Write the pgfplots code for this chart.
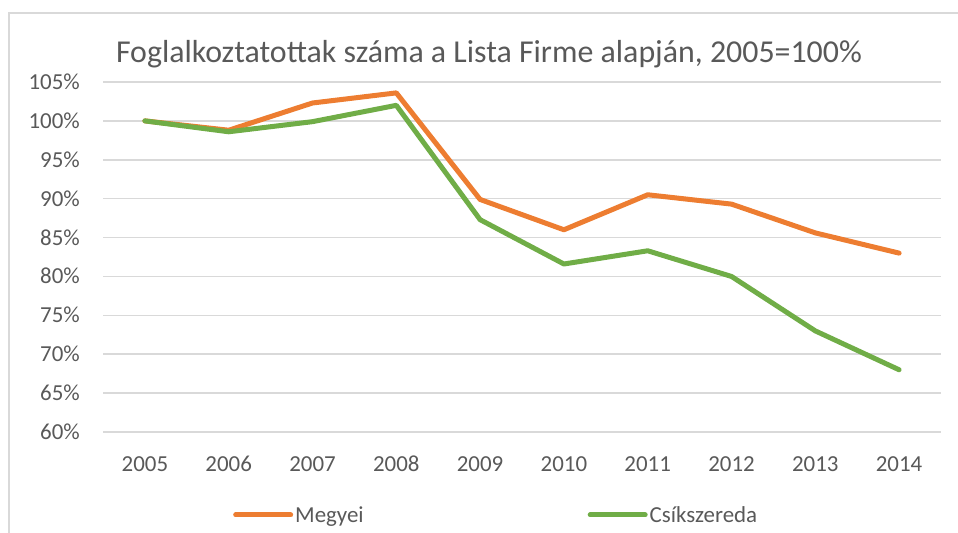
\documentclass[border=0pt]{standalone}
\usepackage{pgfplots}
\pgfplotsset{compat=1.18}
\usepackage{fontspec}
\setmainfont{Carlito}
\definecolor{txt}{HTML}{595959}
\definecolor{gridc}{HTML}{D9D9D9}
\definecolor{orng}{HTML}{ED7D31}
\definecolor{grn}{HTML}{70AD47}
\begin{document}
\begin{tikzpicture}
\draw[gridc, line width=1.5bp] (9bp,0bp) -- (9bp,520bp) -- (958bp,520bp);
\begin{axis}[
  at={(103bp,101bp)}, anchor=south west, scale only axis,
  width=838bp, height=350bp,
  xmin=-0.5, xmax=9.5, ymin=60, ymax=105,
  axis line style={draw=none}, major tick length=0pt,
  ymajorgrids, grid style={gridc, line width=1.5bp},
  xtick={0,...,9},
  xticklabels={2005,2006,2007,2008,2009,2010,2011,2012,2013,2014},
  ytick={60,65,...,105},
  yticklabels={60\%,65\%,70\%,75\%,80\%,85\%,90\%,95\%,100\%,105\%},
  ticklabel style={font=\fontsize{23}{23}\selectfont, text=txt, inner sep=0pt},
  yticklabel style={xshift=-23bp, text height=15bp, text depth=0pt},
  xticklabel style={yshift=-24bp, text height=15bp, text depth=0pt},
  title={Foglalkoztatottak száma a Lista Firme alapján, 2005=100\%},
  title style={font=\fontsize{32}{32}\selectfont, text=txt, anchor=base, at={(axis description cs:0.4606,1)}, yshift=14bp, inner sep=0pt},
  legend columns=2, legend cell align=left,
  legend style={draw=none, fill=none, at={(axis description cs:0.1551,-0.2371)}, anchor=west, inner sep=0pt,
    font=\fontsize{23}{23}\selectfont, text=txt,
    nodes={inner sep=2bp},
    /tikz/every odd column/.append style={column sep=0bp},
    /tikz/every even column/.append style={column sep=222bp}},
  legend image code/.code={\draw[#1] (0bp,0bp) -- (55bp,0bp);},
  every axis plot/.append style={line width=5bp, line cap=round, line join=round},
]
\addplot[orng] coordinates {(0,100) (1,98.8) (2,102.3) (3,103.6) (4,89.9) (5,86.0) (6,90.5) (7,89.3) (8,85.6) (9,83.0)};
\addlegendentry{Megyei}
\addplot[grn] coordinates {(0,100) (1,98.6) (2,99.9) (3,102.0) (4,87.3) (5,81.6) (6,83.3) (7,80.0) (8,73.0) (9,68.0)};
\addlegendentry{Csíkszereda}
\end{axis}
\pgfresetboundingbox
\path[use as bounding box] (0bp,0bp) rectangle (958bp,533bp);
\end{tikzpicture}
\end{document}
